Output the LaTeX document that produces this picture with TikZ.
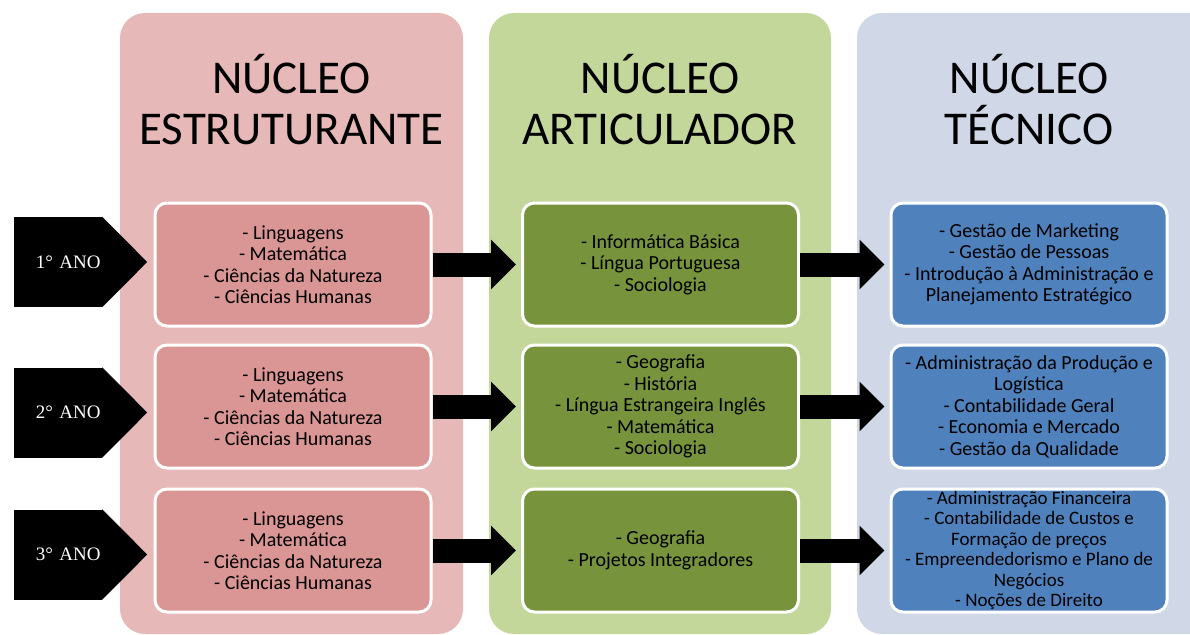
\documentclass[tikz,border=0pt]{standalone}
\usepackage{fontspec}
\setmainfont{Carlito}
\newfontfamily\anofont{Liberation Serif}
\usetikzlibrary{arrows.meta,positioning}
\definecolor{panelRed}{HTML}{E6B8B7}
\definecolor{panelGreen}{HTML}{C4D79B}
\definecolor{panelBlue}{HTML}{D0D8E8}
\definecolor{boxRed}{HTML}{DA9694}
\definecolor{boxGreen}{HTML}{77933C}
\definecolor{boxBlue}{HTML}{4F81BD}
\tikzset{
  panel/.style={ rounded corners=25pt, inner sep=0pt, minimum height=621pt }
}
\tikzset{
  titleN/.style={ align=center, inner sep=0pt, font=\fontsize{47}{51}\selectfont }
}
\tikzset{
  item/.style={ draw=white, line width=3pt, rounded corners=12pt, minimum width=276pt, minimum height=123pt, align=center, inner sep=2pt, font=\fontsize{20}{21.5}\selectfont }
}
\tikzset{
  ano/.style={ fill=black, text=white, inner sep=0pt, minimum width=88pt, minimum height=90pt, text width=85pt, align=right, font=\anofont\fontsize{19}{22}\selectfont }
}
\tikzset{
  seta/.style={ line width=24pt, -{Triangle[length=25pt,width=48pt]}, shorten >=5pt }
}

\begin{document}
\begin{tikzpicture}[x=1pt, y=-1pt]
      \useasboundingbox (0,0) rectangle (1190,634);
      % colunas
      \node[panel, fill=panelRed, minimum width=343pt] (colE) at (291.5, 323.5) {};
      \node[panel, fill=panelGreen, minimum width=342pt] (colA) at (660, 323.5) {};
      \node[panel, fill=panelBlue, minimum width=358pt] (colT) at (1036, 323.5) {};
      \node[titleN] (tE) at (291.5, 100) {NÚCLEO\\ESTRUTURANTE};
      \node[titleN] (tA) at (660, 100) {NÚCLEO\\ARTICULADOR};
      \node[titleN] (tT) at (1029, 100) {NÚCLEO\\TÉCNICO};
      % anos
      \node[ano] (ano1) at (58, 262) {1° ANO};
      \node[ano] (ano2) at (58, 412.5) {2° ANO};
      \node[ano] (ano3) at (58, 554.5) {3° ANO};
      \fill (ano1.north east) -- ([xshift=45pt]ano1.east) -- (ano1.south east) -- cycle;
      \fill (ano2.north east) -- ([xshift=45pt]ano2.east) -- (ano2.south east) -- cycle;
      \fill (ano3.north east) -- ([xshift=45pt]ano3.east) -- (ano3.south east) -- cycle;
      % 1o ano
      \node[item, fill=boxRed] (e1) at (293, 264.5) {- Linguagens\\- Matemática\\- Ciências da Natureza\\- Ciências Humanas};
      \node[item, fill=boxGreen] (a1) at (660.5, 264.5) {- Informática Básica\\- Língua Portuguesa\\- Sociologia};
      \node[item, fill=boxBlue] (t1) at (1029, 264.5) {- Gestão de Marketing\\- Gestão de Pessoas\\- Introdução à Administração e\\Planejamento Estratégico};
      % 2o ano
      \node[item, fill=boxRed] (e2) at (293, 406.5) {- Linguagens\\- Matemática\\- Ciências da Natureza\\- Ciências Humanas};
      \node[item, fill=boxGreen] (a2) at (660.5, 406.5) {- Geografia\\- História\\- Língua Estrangeira Inglês\\- Matemática\\- Sociologia};
      \node[item, fill=boxBlue] (t2) at (1029, 406.5) {- Administração da Produção e\\Logística\\- Contabilidade Geral\\- Economia e Mercado\\- Gestão da Qualidade};
      % 3o ano
      \node[item, fill=boxRed] (e3) at (293, 550.5) {- Linguagens\\- Matemática\\- Ciências da Natureza\\- Ciências Humanas};
      \node[item, fill=boxGreen] (a3) at (660.5, 550.5) {- Geografia\\- Projetos Integradores};
      \node[item, fill=boxBlue, font=\fontsize{19}{20.4}\selectfont] (t3) at (1029, 550.5) {- Administração Financeira\\- Contabilidade de Custos e\\Formação de preços\\- Empreendedorismo e Plano de\\Negócios\\- Noções de Direito};
      \draw[seta] (e1) -- (a1);
      \draw[seta] (a1) -- (t1);
      \draw[seta] (e2) -- (a2);
      \draw[seta] (a2) -- (t2);
      \draw[seta] (e3) -- (a3);
      \draw[seta] (a3) -- (t3);
    \end{tikzpicture}
\end{document}
